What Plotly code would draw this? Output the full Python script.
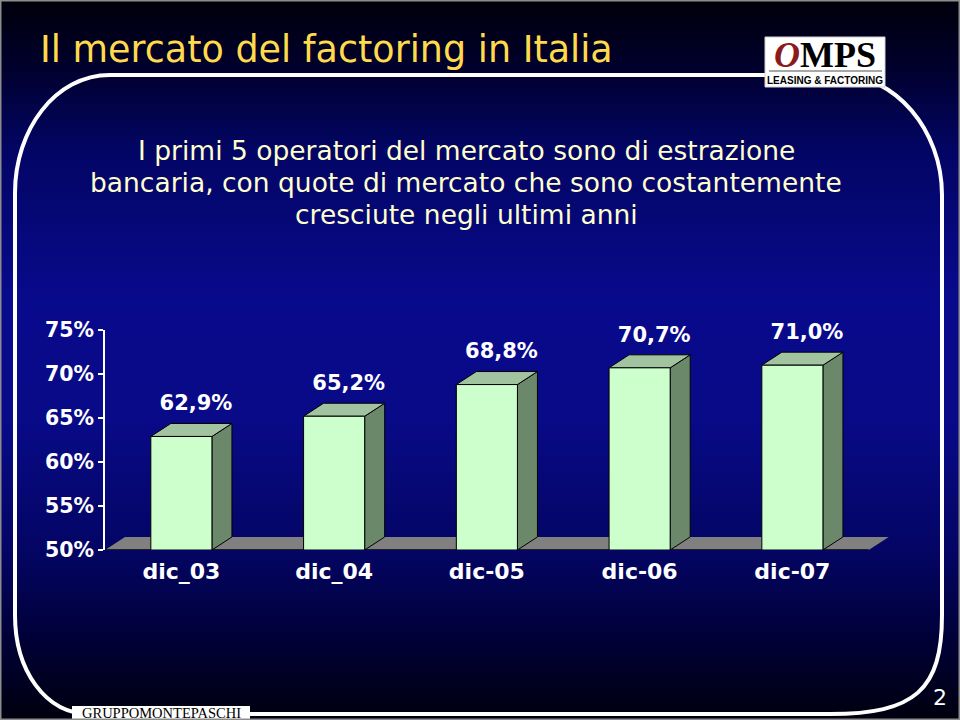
import plotly.graph_objects as go

# ---------------- data ----------------
categories = ["dic_03", "dic_04", "dic-05", "dic-06", "dic-07"]
shares = [62.9, 65.2, 68.8, 70.7, 71.0]
share_labels = ["62,9%", "65,2%", "68,8%", "70,7%", "71,0%"]
y_ticks = [50, 55, 60, 65, 70, 75]
y_tick_labels = ["50%", "55%", "60%", "65%", "70%", "75%"]

title_text = "Il mercato del factoring in Italia"
subtitle_lines = [
    "I primi 5 operatori del mercato sono di estrazione",
    "bancaria, con quote di mercato che sono costantemente",
    "cresciute negli ultimi anni",
]

# ---------------- style / geometry ----------------
W, H = 960, 720
BASE = 50
HALF = 0.2      # half width of bar front face (category units)
DX = 0.131      # 3D depth offset in x (category units)
DY = 1.48       # 3D depth offset in y (percentage points)
FRONT = "#CCFFCC"
TOP = "#A2C3A0"
SIDE = "#6B886B"
FLOOR = "#808080"


def px(x):
    return x / W


def py(y):
    return 1 - y / H


fig = go.Figure()

# floor
n = len(categories)
fx0, fx1 = -0.5, n - 0.5
fig.add_trace(go.Scatter(
    x=[fx0, fx1, fx1 + DX, fx0 + DX, fx0],
    y=[BASE, BASE, BASE + DY, BASE + DY, BASE],
    fill="toself", fillcolor=FLOOR, mode="lines",
    line=dict(color=FLOOR, width=0), hoverinfo="skip", showlegend=False))
fig.add_trace(go.Scatter(
    x=[fx0, fx1], y=[BASE, BASE], mode="lines",
    line=dict(color="black", width=1.5), hoverinfo="skip", showlegend=False))

# bars (pseudo 3D)
for i, v in enumerate(shares):
    l, r = i - HALF, i + HALF
    faces = [
        ([r, r + DX, r + DX, r, r], [BASE, BASE + DY, v + DY, v, BASE], SIDE),
        ([l, r, r + DX, l + DX, l], [v, v, v + DY, v + DY, v], TOP),
        ([l, r, r, l, l], [BASE, BASE, v, v, BASE], FRONT),
    ]
    for xs, ys, col in faces:
        fig.add_trace(go.Scatter(
            x=xs, y=ys, fill="toself", fillcolor=col, mode="lines",
            line=dict(color="black", width=1), hoverinfo="skip",
            showlegend=False))

# value labels
fig.add_trace(go.Scatter(
    x=[i + DX / 2 + 0.03 for i in range(n)],
    y=[v + DY + 2.1 for v in shares],
    text=share_labels, mode="text", textposition="middle center",
    textfont=dict(family="DejaVu Sans", size=21, color="white", weight="bold"),
    cliponaxis=False, hoverinfo="skip", showlegend=False))

fig.update_xaxes(
    range=[-0.5, n - 0.5 + 0.15],
    domain=[px(105), px(105 + (n + 0.15) * 152.75)],
    tickvals=list(range(n)), ticktext=categories,
    tickfont=dict(family="DejaVu Sans", size=22, color="white", weight="bold"),
    ticks="", showline=False, showgrid=False, zeroline=False,
    ticklabelstandoff=6, automargin=False, fixedrange=True)
fig.update_yaxes(
    range=[50, 75], domain=[py(550), py(330)],
    tickvals=y_ticks, ticktext=y_tick_labels,
    tickfont=dict(family="DejaVu Sans", size=20.5, color="white", weight="bold"),
    ticks="outside", ticklen=5, tickcolor="white", tickwidth=1.5,
    showline=True, linecolor="white", linewidth=1.5,
    showgrid=False, zeroline=False, automargin=False, fixedrange=True)

# ---------------- background gradient ----------------
stops = [(0, (0, 0, 10)), (60, (0, 0, 40)), (150, (3, 5, 100)),
         (300, (8, 10, 140)), (420, (8, 10, 135)), (550, (4, 5, 100)),
         (640, (0, 0, 55)), (720, (0, 0, 15))]


def col_at(y):
    for (y0, c0), (y1, c1) in zip(stops[:-1], stops[1:]):
        if y0 <= y <= y1:
            t = (y - y0) / (y1 - y0)
            return "rgb(%d,%d,%d)" % tuple(round(a + (b - a) * t) for a, b in zip(c0, c1))
    return "rgb(0,0,15)"


shapes = []
step = 8
for y in range(0, H, step):
    shapes.append(dict(type="rect", xref="paper", yref="paper", layer="below",
                       x0=0, x1=1, y0=py(y + step + 0.5), y1=py(y),
                       fillcolor=col_at(y + step / 2), line=dict(width=0)))

# rounded white frame
pts = lambda x, y: "%.5f,%.5f" % (px(x), py(y))
frame = ("M " + pts(110, 75) + " L " + pts(840, 75) +
         " C " + pts(895, 75) + " " + pts(942, 130) + " " + pts(942, 195) +
         " L " + pts(942, 615) +
         " C " + pts(942, 690) + " " + pts(915, 714) + " " + pts(830, 714) +
         " L " + pts(90, 714) +
         " C " + pts(45, 714) + " " + pts(15, 670) + " " + pts(15, 615) +
         " L " + pts(15, 193) +
         " C " + pts(15, 130) + " " + pts(55, 75) + " " + pts(110, 75) + " Z")
shapes.append(dict(type="path", xref="paper", yref="paper", layer="below",
                   path=frame, line=dict(color="white", width=4)))

# logo box
shapes.append(dict(type="rect", xref="paper", yref="paper", layer="above",
                   x0=px(765), x1=px(885), y0=py(87), y1=py(37),
                   fillcolor="white", line=dict(color="#d0d0d0", width=1)))
shapes.append(dict(type="line", xref="paper", yref="paper", layer="above",
                   x0=px(769), x1=px(882), y0=py(71), y1=py(71),
                   line=dict(color="#8a8a8a", width=1.5)))
# bottom-left brand box
shapes.append(dict(type="rect", xref="paper", yref="paper", layer="above",
                   x0=px(72), x1=px(250), y0=py(719), y1=py(706),
                   fillcolor="white", line=dict(width=0)))
# outer grey border
shapes.append(dict(type="rect", xref="paper", yref="paper", layer="above",
                   x0=0, x1=1, y0=0, y1=1, fillcolor="rgba(0,0,0,0)",
                   line=dict(color="#8c8c8c", width=3)))

annotations = [
    dict(text=title_text, x=px(38), y=py(50), xanchor="left", yanchor="middle",
         font=dict(family="DejaVu Sans", size=36.5, color="#FFDA4D")),
    dict(text="<b><span style='color:#8B1A1A'><i>O</i></span>MPS</b>",
         x=px(825), y=py(55), xanchor="center", yanchor="middle",
         font=dict(family="Liberation Serif", size=36, color="black")),
    dict(text="<b>LEASING &amp; FACTORING</b>", x=px(825), y=py(80), xanchor="center",
         yanchor="middle",
         font=dict(family="Liberation Sans Narrow, Liberation Sans", size=10, color="black")),
    dict(text="GRUPPOMONTEPASCHI", x=px(161), y=py(712.5), xanchor="center",
         yanchor="middle",
         font=dict(family="Liberation Serif", size=14.5, color="black")),
    dict(text="2", x=px(940), y=py(697), xanchor="center", yanchor="middle",
         font=dict(family="DejaVu Sans", size=22, color="white")),
]
for k, line in enumerate(subtitle_lines):
    annotations.append(dict(text=line, x=px(466), y=py(150 + 32 * k),
                            xanchor="center", yanchor="middle",
                            font=dict(family="DejaVu Sans", size=26.5, color="#FFFFCC")))
for a in annotations:
    a.update(xref="paper", yref="paper", showarrow=False)

fig.update_layout(
    width=W, height=H, margin=dict(l=0, r=0, t=0, b=0, autoexpand=False),
    paper_bgcolor="#000010", plot_bgcolor="rgba(0,0,0,0)",
    shapes=shapes, annotations=annotations, showlegend=False)

fig.write_html("out.html",
               config={"displayModeBar": False},
               post_script="document.body.style.margin='0';document.body.style.overflow='hidden';")
